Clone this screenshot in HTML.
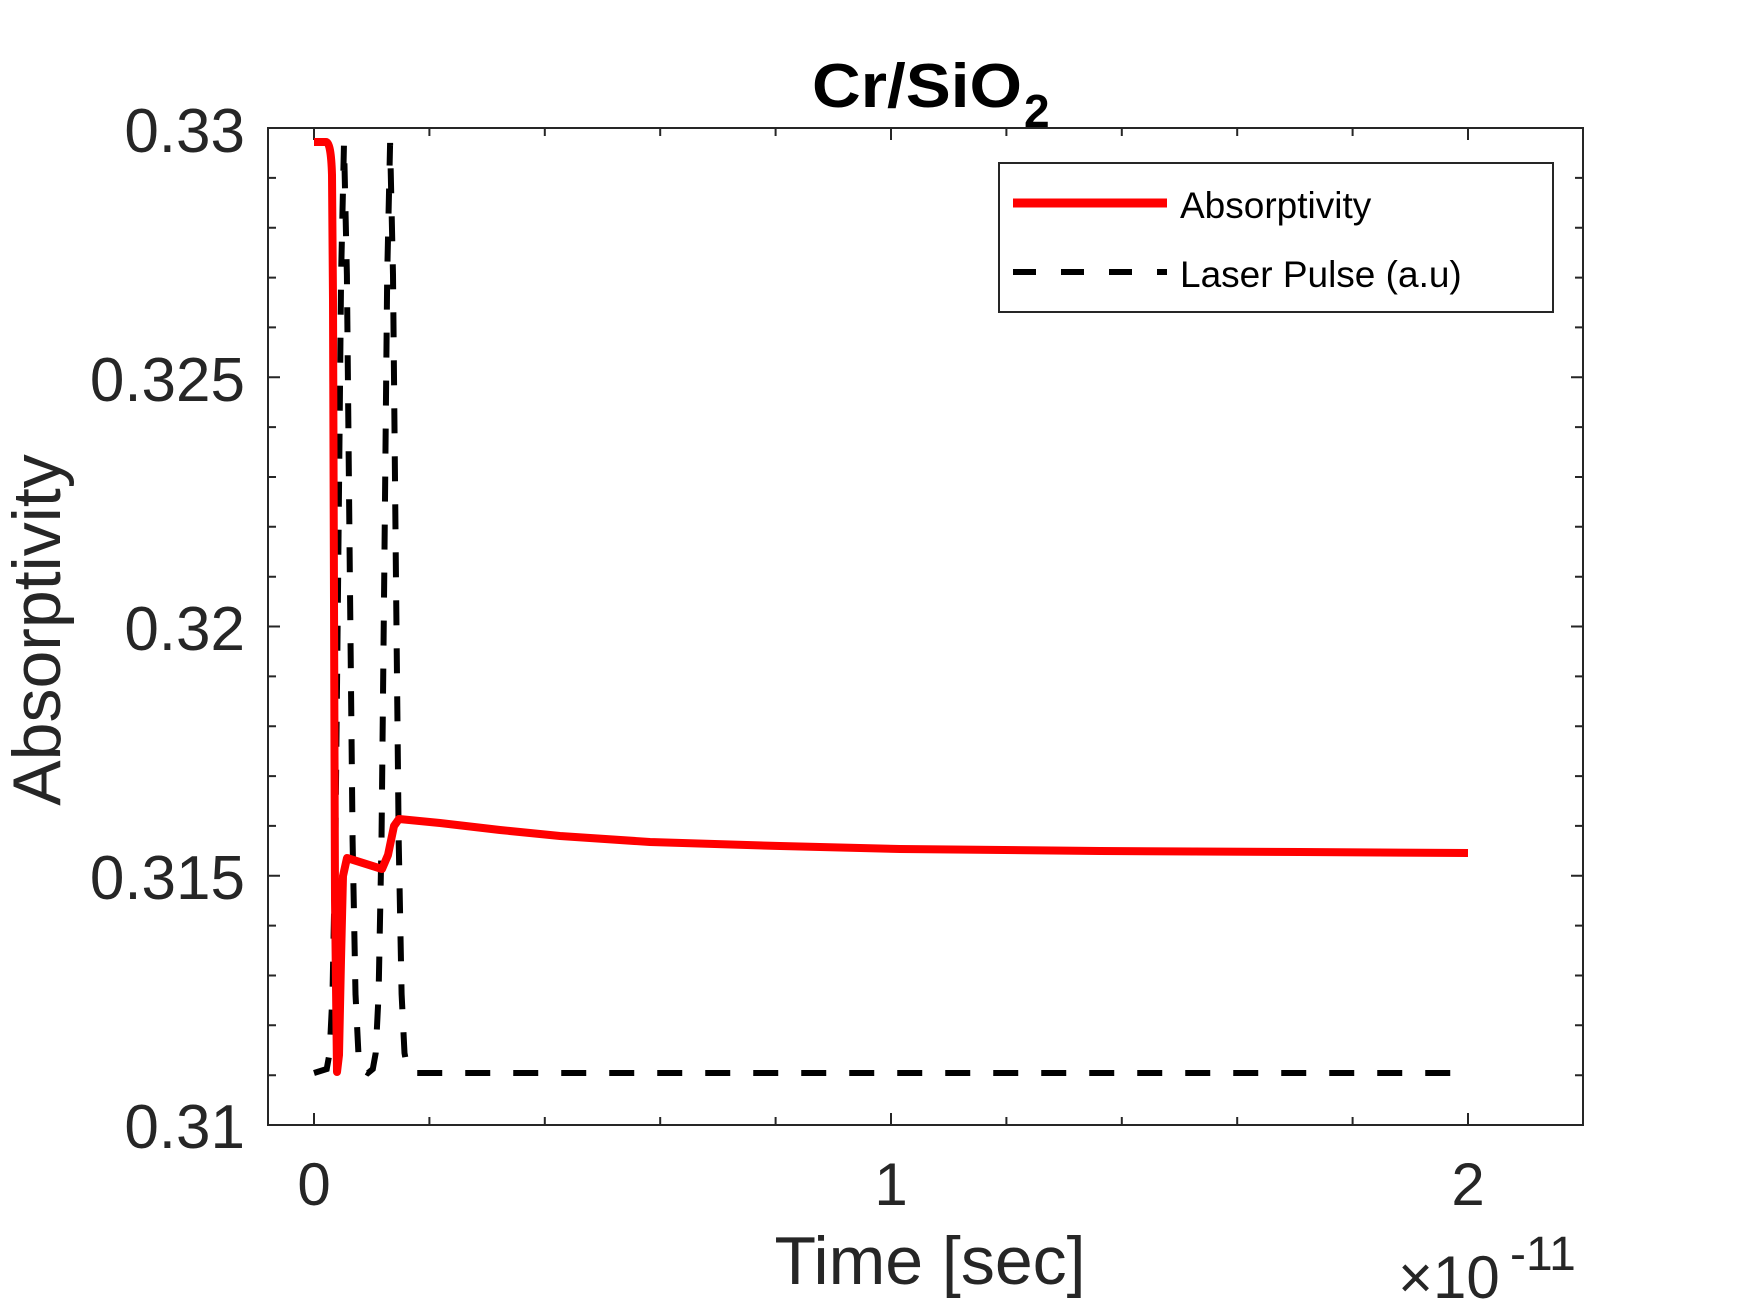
<!DOCTYPE html>
<html><head><meta charset="utf-8"><style>
html,body{margin:0;padding:0;background:#fff;}
svg{display:block;font-family:"Liberation Sans",Arial,sans-serif;}
</style></head><body>
<svg width="1750" height="1313" viewBox="0 0 1750 1313" xmlns="http://www.w3.org/2000/svg">
<rect width="1750" height="1313" fill="#fff"/>
<g stroke="#262626" stroke-width="2">
<path d="M268 177.9h8M268 227.7h8M268 277.6h8M268 327.4h8M268 377.3h12M268 427.1h8M268 477h8M268 526.8h8M268 576.7h8M268 626.5h12M268 676.4h8M268 726.2h8M268 776.1h8M268 825.9h8M268 875.8h12M268 925.6h8M268 975.5h8M268 1025.3h8M268 1075.2h8"/>
<path d="M1583 177.9h-8M1583 227.7h-8M1583 277.6h-8M1583 327.4h-8M1583 377.3h-12M1583 427.1h-8M1583 477h-8M1583 526.8h-8M1583 576.7h-8M1583 626.5h-12M1583 676.4h-8M1583 726.2h-8M1583 776.1h-8M1583 825.9h-8M1583 875.8h-12M1583 925.6h-8M1583 975.5h-8M1583 1025.3h-8M1583 1075.2h-8"/>
<path d="M314 1125v-12M429.4 1125v-8M544.8 1125v-8M660.2 1125v-8M775.6 1125v-8M891 1125v-12M1006.4 1125v-8M1121.8 1125v-8M1237.2 1125v-8M1352.6 1125v-8M1468 1125v-12"/>
<path d="M314 128v12M429.4 128v8M544.8 128v8M660.2 128v8M775.6 128v8M891 128v12M1006.4 128v8M1121.8 128v8M1237.2 128v8M1352.6 128v8M1468 128v12"/>
</g>
<rect x="268" y="128" width="1315" height="997" fill="none" stroke="#262626" stroke-width="2"/>
<path d="M314 1073 L326.7 1069 L329.6 1053 L332.5 994 L335.4 841 L338.2 571 L341.1 275 L344 143 L346.9 275 L349.8 571 L352.6 841 L355.5 994 L358.4 1053 L361.3 1069 L368 1073 L372.8 1069 L375.7 1053 L378.6 994 L381.5 841 L384.3 571 L387.2 275 L390.1 143 L393 275 L395.9 571 L398.7 841 L401.6 994 L404.5 1053 L407.4 1069 L414 1073 L1468 1073" fill="none" stroke="#000" stroke-width="6" stroke-dasharray="25 23"/>
<path d="M314 142 L326 142 Q331 142 332 175 L333 300 L334 600 L335 900 L337 1072 L339 1055 L341 960 L343 876 L347 858 L382 869 L388 855 L394 826 L399 819 L440 823 L500 830 L560 836 L650 842 L780 846 L900 849 L1100 851 L1300 852 L1468 853" fill="none" stroke="#ff0000" stroke-width="8" stroke-linejoin="round"/>
<rect x="999" y="163" width="554" height="149" fill="#fff" stroke="#262626" stroke-width="2"/>
<line x1="1013" y1="203" x2="1167" y2="203" stroke="#ff0000" stroke-width="9"/>
<line x1="1013" y1="272" x2="1167" y2="272" stroke="#000" stroke-width="6" stroke-dasharray="23 25"/>
<g fill="#000" font-size="37">
<text x="1180" y="218">Absorptivity</text>
<text x="1180" y="287">Laser Pulse (a.u)</text>
</g>
<g fill="#262626" font-size="62" text-anchor="end">
<text x="245" y="152">0.33</text>
<text x="245" y="401">0.325</text>
<text x="245" y="650">0.32</text>
<text x="245" y="899">0.315</text>
<text x="245" y="1148">0.31</text>
</g>
<g fill="#262626" font-size="60" text-anchor="middle">
<text x="314" y="1205">0</text>
<text x="891" y="1205">1</text>
<text x="1468" y="1205">2</text>
</g>
<text x="930" y="1284" fill="#262626" font-size="68" text-anchor="middle">Time [sec]</text>
<text x="1398" y="1298" fill="#262626" font-size="60">×10</text>
<text x="1510" y="1270" fill="#262626" font-size="48">-11</text>
<text transform="translate(60,630) rotate(-90)" fill="#262626" font-size="68" text-anchor="middle">Absorptivity</text>
<text x="812" y="107" fill="#000" font-size="62" font-weight="bold" textLength="210" lengthAdjust="spacingAndGlyphs">Cr/SiO</text>
<text x="1024" y="127" fill="#000" font-size="46" font-weight="bold">2</text>
</svg>
</body></html>
